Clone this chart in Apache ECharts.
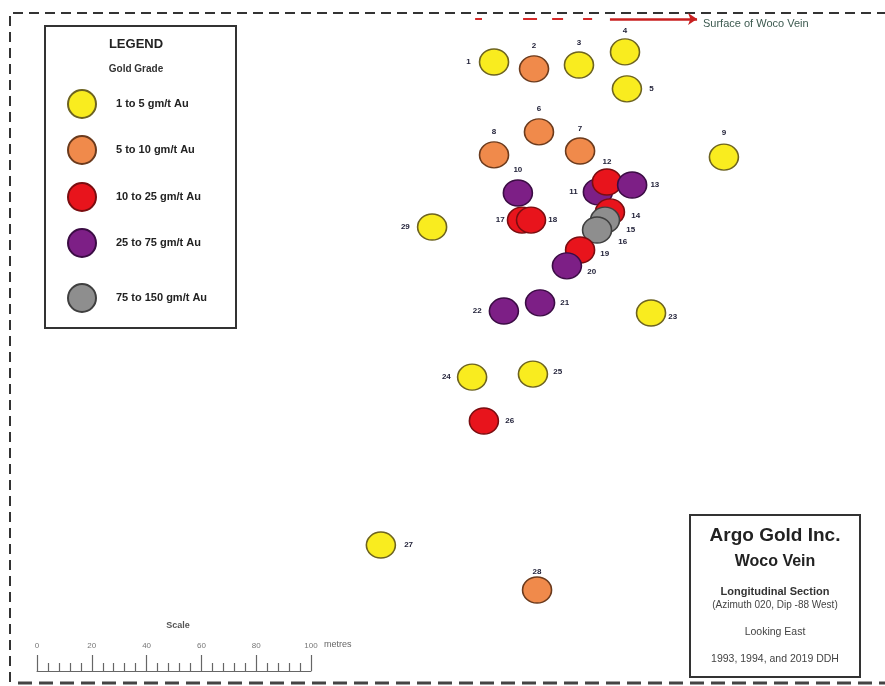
<!DOCTYPE html>
<html><head><meta charset="utf-8">
<script src="https://cdn.jsdelivr.net/npm/echarts@6/dist/echarts.min.js"></script>
<style>html,body{margin:0;padding:0;background:#fff}#c{width:885px;height:686px}</style>
</head><body><div id="c"></div>
<script>
// ---- data (metres along section, metres below surface) ----
const gradeNames = ['1 to 5 gm/t Au', '5 to 10 gm/t Au', '10 to 25 gm/t Au', '25 to 75 gm/t Au', '75 to 150 gm/t Au'];
const holeIds = ['1','2','3','4','5','6','7','8','9','10','11','12','13','14','15','16','17','18','19','20','21','22','23','24','25','26','27','28','29'];
const holeX = [166.8, 181.4, 197.8, 214.6, 215.3, 183.2, 198.2, 166.8, 250.7, 175.5, 204.7, 208.0, 217.2, 209.1, 207.3, 204.4, 177.0, 180.3, 198.2, 193.4, 183.6, 170.4, 224.1, 158.8, 181.0, 163.1, 125.5, 182.5, 144.2];
const holeDepth = [15.7, 18.2, 16.8, 12.0, 25.5, 41.2, 48.2, 49.6, 50.4, 63.5, 63.1, 59.5, 60.6, 70.4, 73.4, 77.0, 73.4, 73.4, 84.3, 90.1, 103.6, 106.6, 107.3, 130.7, 129.6, 146.7, 192.0, 208.4, 75.9];
const holeGrade = [0, 1, 0, 0, 0, 1, 1, 1, 0, 3, 3, 2, 3, 2, 4, 4, 2, 2, 2, 3, 3, 3, 0, 0, 0, 2, 0, 1, 0];
const surfaceTraceX = [[159.9, 162.4], [177.4, 182.5], [188.0, 192.0], [199.3, 202.6]];
const surfaceSolidX = [209.1, 240.9];
const surfaceDepth = 0;
const scaleMin = 0, scaleMax = 100, scaleStep = 20;

// ---- styling ----
const gradeFill = ['#f9ec1f', '#f08a4b', '#e8141c', '#7d1f86', '#8e8e8e'];
const gradeEdge = ['#6d6320', '#6b3a1c', '#7a0d10', '#3b0c44', '#3f3f3f'];
const FONT = 'Liberation Sans, Arial, sans-serif';
const PX_PER_M = 2.74;
const ORIGIN_X = 37, ORIGIN_Y = 19, W = 885, H = 686;
const ELLIPSE = 'path://M50 0A50 50 0 1 1 50 100A50 50 0 1 1 50 0Z';

const labelPlace = {
  '1': {position: 'left', distance: 8}, '2': {position: 'top'}, '3': {position: 'top'}, '4': {position: 'top', distance: 3},
  '5': {position: 'right', distance: 7}, '6': {position: 'top'}, '7': {position: 'top'}, '8': {position: 'top'},
  '9': {position: 'top', distance: 7}, '10': {position: 'top'}, '11': {position: 'left', distance: 5},
  '12': {position: 'top', distance: 3}, '13': {position: 'right', distance: 3}, '14': {position: 'right', distance: 6, offset: [0, 4]},
  '15': {position: 'right', distance: 6, offset: [0, 10]}, '16': {position: 'right', distance: 6, offset: [0, 12]},
  '17': {position: 'left', distance: 2}, '18': {position: 'right', distance: 2}, '19': {position: 'right', distance: 5, offset: [0, 4]},
  '20': {position: 'right', distance: 5, offset: [0, 6]}, '21': {position: 'right', distance: 5}, '22': {position: 'left', distance: 7},
  '23': {position: 'right', distance: 2, offset: [0, 4]}, '24': {position: 'left', distance: 6}, '25': {position: 'right', distance: 5, offset: [0, -2]},
  '26': {position: 'right', distance: 6}, '27': {position: 'right', distance: 8}, '28': {position: 'top', distance: 1}, '29': {position: 'left', distance: 7}
};

const holeData = holeIds.map((id, i) => ({
  name: id,
  value: [holeX[i], holeDepth[i]],
  itemStyle: {color: gradeFill[holeGrade[i]], borderColor: gradeEdge[holeGrade[i]]},
  label: Object.assign({show: true, formatter: id}, labelPlace[id])
}));

const legendCenters = [103, 149, 196, 242, 297];
const legends = gradeNames.map((g, i) => ({
  data: [g], left: 67, top: legendCenters[i] - 14, orient: 'vertical', padding: 0,
  icon: ELLIPSE, itemWidth: 32, itemHeight: 28, selectedMode: false,
  textStyle: {fontFamily: FONT, fontSize: 11, fontWeight: 'bold', color: '#222', padding: [0, 0, 0, 13]}
}));

const dummySeries = gradeNames.map((g, i) => ({
  name: g, type: 'scatter', data: [], xAxisIndex: 0, yAxisIndex: 0,
  itemStyle: {color: gradeFill[i], borderColor: gradeEdge[i], borderWidth: 1.5, opacity: 1}
}));

const surfaceLines = surfaceTraceX.map(s => ({coords: [[s[0], surfaceDepth], [s[1], surfaceDepth]]}));

const chart = echarts.init(document.getElementById('c'), null, {renderer: 'canvas'});
chart.setOption({
  animation: false,
  backgroundColor: '#fff',
  legend: legends,
  grid: [
    {left: 0, top: 0, width: W, height: H, containLabel: false},
    {left: ORIGIN_X, top: 655, width: (scaleMax - scaleMin) * PX_PER_M, height: 16}
  ],
  xAxis: [
    {type: 'value', gridIndex: 0, min: -ORIGIN_X / PX_PER_M, max: (W - ORIGIN_X) / PX_PER_M, show: false},
    {type: 'value', gridIndex: 1, min: scaleMin, max: scaleMax, interval: scaleStep, position: 'bottom',
      axisLine: {show: true, lineStyle: {color: '#666', width: 1}},
      axisTick: {show: true, inside: true, length: 16, lineStyle: {color: '#666', width: 1.2}},
      minorTick: {show: true, splitNumber: 5, length: 8, lineStyle: {color: '#666', width: 1.2}},
      splitLine: {show: false},
      axisLabel: {inside: true, margin: 21, fontFamily: FONT, fontSize: 8, color: '#777'}}
  ],
  yAxis: [
    {type: 'value', gridIndex: 0, inverse: true, min: -ORIGIN_Y / PX_PER_M, max: (H - ORIGIN_Y) / PX_PER_M, show: false},
    {type: 'value', gridIndex: 1, show: false}
  ],
  series: dummySeries.concat([
    {
      type: 'lines', coordinateSystem: 'cartesian2d', xAxisIndex: 0, yAxisIndex: 0, z: 3,
      lineStyle: {color: '#d42828', width: 2, opacity: 1}, symbol: 'none',
      data: surfaceLines
    },
    {
      type: 'lines', coordinateSystem: 'cartesian2d', xAxisIndex: 0, yAxisIndex: 0, z: 3,
      lineStyle: {color: '#c82020', width: 2.5, opacity: 1}, symbol: ['none', 'arrow'], symbolSize: 9,
      data: [{coords: [[surfaceSolidX[0], surfaceDepth], [surfaceSolidX[1], surfaceDepth]]}]
    },
    {
      name: 'holes', type: 'scatter', xAxisIndex: 0, yAxisIndex: 0, z: 4,
      symbol: ELLIPSE, symbolSize: [29, 26],
      itemStyle: {borderWidth: 1.5, opacity: 1},
      label: {fontFamily: FONT, fontSize: 8, fontWeight: 'bold', color: '#23233a'},
      emphasis: {disabled: true},
      data: holeData
    }
  ]),
  graphic: [
    // dashed map frame
    {type: 'polyline', shape: {points: [[10, 682], [10, 13], [885, 13]]}, style: {stroke: '#333', lineWidth: 2, lineDash: [10, 6], fill: null}, z: 1},
    {type: 'line', shape: {x1: 18, y1: 683, x2: 885, y2: 683}, style: {stroke: '#444', lineWidth: 3, lineDash: [14, 7]}, z: 1},
    {type: 'text', left: 703, top: 18, style: {text: 'Surface of Woco Vein', fontFamily: FONT, fontSize: 11, fill: '#3d5a50'}, z: 5},
    // legend box
    {type: 'rect', shape: {x: 45, y: 26, width: 191, height: 302}, style: {stroke: '#333', lineWidth: 2, fill: null}, z: 1},
    {type: 'text', x: 136, y: 44, style: {text: 'LEGEND', fontFamily: FONT, fontSize: 13, fontWeight: 'bold', fill: '#222', align: 'center', verticalAlign: 'middle'}, z: 5},
    {type: 'text', x: 136, y: 69, style: {text: 'Gold Grade', fontFamily: FONT, fontSize: 10, fontWeight: 'bold', fill: '#333', align: 'center', verticalAlign: 'middle'}, z: 5},
    // title box
    {type: 'rect', shape: {x: 690, y: 515, width: 170, height: 162}, style: {stroke: '#333', lineWidth: 2, fill: null}, z: 1},
    {type: 'text', x: 775, y: 536, style: {text: 'Argo Gold Inc.', fontFamily: FONT, fontSize: 19, fontWeight: 'bold', fill: '#222', align: 'center', verticalAlign: 'middle'}, z: 5},
    {type: 'text', x: 775, y: 562, style: {text: 'Woco Vein', fontFamily: FONT, fontSize: 16, fontWeight: 'bold', fill: '#222', align: 'center', verticalAlign: 'middle'}, z: 5},
    {type: 'text', x: 775, y: 592, style: {text: 'Longitudinal Section', fontFamily: FONT, fontSize: 11, fontWeight: 'bold', fill: '#333', align: 'center', verticalAlign: 'middle'}, z: 5},
    {type: 'text', x: 775, y: 605, style: {text: '(Azimuth 020, Dip -88 West)', fontFamily: FONT, fontSize: 10, fill: '#444', align: 'center', verticalAlign: 'middle'}, z: 5},
    {type: 'text', x: 775, y: 632, style: {text: 'Looking East', fontFamily: FONT, fontSize: 10.5, fill: '#444', align: 'center', verticalAlign: 'middle'}, z: 5},
    {type: 'text', x: 775, y: 659, style: {text: '1993, 1994, and 2019 DDH', fontFamily: FONT, fontSize: 10.5, fill: '#444', align: 'center', verticalAlign: 'middle'}, z: 5},
    // scale captions
    {type: 'text', x: 178, y: 626, style: {text: 'Scale', fontFamily: FONT, fontSize: 9, fontWeight: 'bold', fill: '#555', align: 'center', verticalAlign: 'middle'}, z: 5},
    {type: 'text', x: 324, y: 645, style: {text: 'metres', fontFamily: FONT, fontSize: 9, fill: '#666', align: 'left', verticalAlign: 'middle'}, z: 5}
  ]
});
</script></body></html>
